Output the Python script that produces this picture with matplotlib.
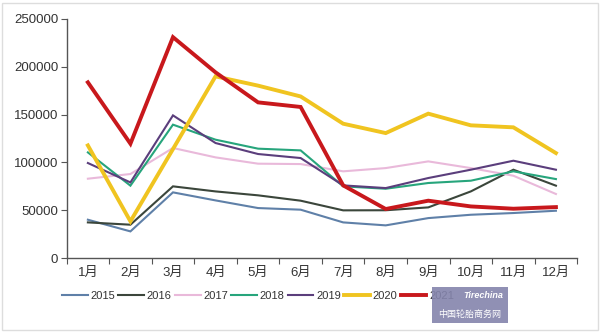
import matplotlib
matplotlib.use("Agg")
import matplotlib.pyplot as plt
import numpy as np

plt.rcParams['font.family'] = ['Liberation Sans', 'Noto Sans CJK SC', 'DejaVu Sans']

months = ['1月', '2月', '3月', '4月', '5月', '6月', '7月', '8月', '9月', '10月', '11月', '12月']
years = ['2015', '2016', '2017', '2018', '2019', '2020', '2021']

y2015 = [40100, 27900, 68700, 60300, 52300, 50600, 37300, 34200, 41800, 45300, 47100, 49500]
y2016 = [37300, 34900, 75000, 69700, 65600, 60000, 49900, 50000, 53000, 69700, 92400, 75700]
y2017 = [83000, 87900, 115100, 105300, 98700, 98300, 90700, 94100, 101100, 94100, 86100, 67000]
y2018 = [110500, 75700, 139500, 123800, 114400, 112600, 75000, 72500, 78500, 80900, 90700, 82600]
y2019 = [99400, 79100, 149200, 120300, 108800, 104600, 76000, 73200, 83700, 92400, 101800, 92400]
y2020 = [117800, 38400, 114000, 190000, 180300, 169000, 140500, 130700, 151000, 138800, 136700, 109800]
y2021 = [183750, 119600, 231000, 194200, 162800, 158000, 76000, 51300, 60000, 54000, 51600, 53300]

series = [y2015, y2016, y2017, y2018, y2019, y2020, y2021]
colors = ['#5f80a8', '#3b463b', '#e9b9da', '#27a57c', '#5b3e7c', '#f0c420', '#c8181c']
widths = [1.5, 1.5, 1.5, 1.5, 1.5, 2.8, 2.8]

fig = plt.figure(figsize=(6, 3.33), dpi=100)
ax = fig.add_axes([0.111, 0.225, 0.851, 0.718])

x = np.arange(len(months))
for vals, c, w, lab in zip(series, colors, widths, years):
    ax.plot(x, vals, color=c, lw=w, label=lab, solid_joinstyle='miter')

ax.set_xlim(-0.5, len(months) - 0.5)
ax.set_ylim(0, 250000)
ax.set_yticks(np.arange(0, 250001, 50000))
ax.set_yticklabels([str(v) for v in range(0, 250001, 50000)], fontsize=9.5, color='#333333')

ax.set_xticks(np.arange(-0.5, len(months), 1))
ax.set_xticklabels([])
ax.set_xticks(x, minor=True)
ax.set_xticklabels(months, minor=True, fontsize=9.5, color='#333333')
ax.tick_params(axis='x', which='minor', length=0, pad=6)
ax.tick_params(axis='x', which='major', length=4, color='#555555')
ax.tick_params(axis='y', length=4, color='#555555', pad=2)

for s in ['top', 'right']:
    ax.spines[s].set_visible(False)
for s in ['left', 'bottom']:
    ax.spines[s].set_color('#555555')
    ax.spines[s].set_linewidth(1.0)

fig.legend(loc='center', bbox_to_anchor=(0.43, 0.111), ncol=7, frameon=False,
           fontsize=8, handlelength=2.3, handletextpad=0.25, columnspacing=0.3,
           labelcolor='#333333')

# frame around the picture
fig.patches.append(plt.Rectangle((0.003, 0.01), 0.994, 0.98, transform=fig.transFigure,
                                 fill=False, edgecolor='#dddddd', lw=1))

# watermark box
wm = plt.Rectangle((0.72, 0.03), 0.127, 0.108, transform=fig.transFigure,
                   facecolor='#8484ac', edgecolor='none', alpha=0.9, zorder=10)
fig.patches.append(wm)
fig.text(0.805, 0.112, 'Tirechina', fontsize=6.5, color='white', style='italic',
         fontweight='bold', ha='center', va='center', zorder=11)
fig.text(0.783, 0.057, '中国轮胎商务网', fontsize=6.5, color='white', ha='center',
         va='center', zorder=11)

fig.savefig('out.png', dpi=100)
